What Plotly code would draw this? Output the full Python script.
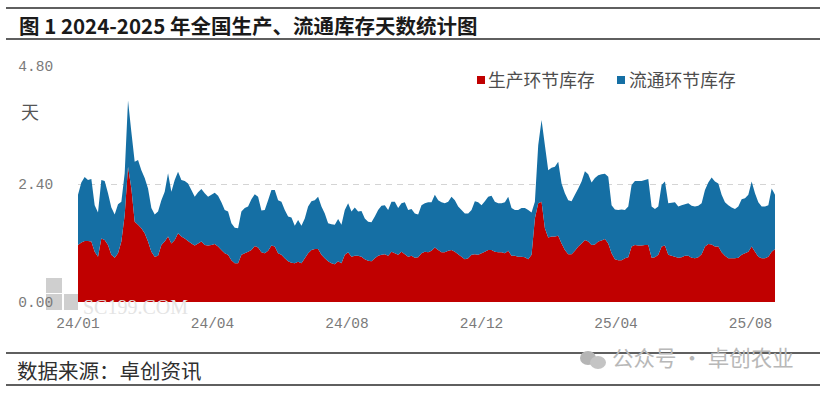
import pandas as pd
import numpy as np
import plotly.graph_objects as go

START = "2024-01-01"
STEP_DAYS = 3

total_days = [
2.18,2.43,2.54,2.48,2.50,1.97,1.82,2.48,2.46,2.21,1.92,1.78,1.99,2.04,2.62,4.10,3.46,2.85,2.89,2.68,2.52,2.31,1.91,1.78,1.84,2.07,
2.24,2.62,2.24,2.48,2.65,2.48,2.46,2.41,2.28,2.14,2.23,2.30,2.21,2.14,2.18,2.22,2.16,2.03,1.87,1.84,1.60,1.51,1.50,1.84,1.91,1.94,
2.09,2.19,2.14,1.86,1.87,2.07,2.28,2.28,2.07,2.04,1.87,1.74,1.72,1.55,1.67,1.55,1.70,1.94,2.05,2.07,2.14,1.94,1.80,1.60,1.58,1.57,1.69,1.57,
1.87,2.01,1.84,1.92,1.84,1.85,1.70,1.63,1.62,1.74,1.87,1.96,1.97,1.87,2.04,2.04,1.91,2.01,2.03,1.87,1.89,1.80,1.78,1.97,2.01,
2.03,2.03,2.18,2.07,2.03,2.01,2.04,2.14,2.07,1.94,1.87,1.80,1.80,1.87,2.05,2.03,1.97,2.05,2.14,2.16,2.04,2.01,2.01,2.03,2.14,1.91,
1.87,1.87,1.91,1.91,1.87,1.82,2.04,3.19,3.70,3.19,2.68,2.73,2.75,2.85,2.41,2.21,2.07,2.05,2.18,2.31,2.45,2.66,2.60,2.43,2.52,2.58,
2.60,2.61,2.55,1.97,1.88,1.87,1.88,1.87,1.94,2.38,2.46,2.46,2.46,2.48,2.50,1.94,1.89,1.94,2.38,2.45,2.01,2.02,2.03,1.94,1.97,1.99,
2.01,1.96,1.94,1.96,2.01,2.28,2.43,2.53,2.45,2.41,2.18,2.03,1.97,1.92,1.89,1.94,2.09,2.11,2.18,2.45,2.21,2.03,1.94,1.94,1.97,2.31,2.18,
]

production_days = [
1.16,1.21,1.24,1.24,1.23,1.02,.92,1.29,1.26,1.16,.96,.90,.99,1.23,1.77,2.75,2.31,1.63,1.57,1.50,1.40,1.23,1.02,.92,.94,1.16,
1.23,1.33,1.19,1.26,1.40,1.33,1.29,1.24,1.19,1.15,1.19,1.23,1.16,1.15,1.16,1.18,1.13,1.06,.99,.96,.85,.79,.79,.96,.99,1.02,
1.06,1.14,1.11,1.01,.99,1.04,1.15,1.13,.99,.96,.89,.83,.80,.79,.82,.79,.89,.99,1.06,1.08,1.08,.96,.89,.83,.79,.77,.83,.79,
.96,1.01,.92,.94,.94,.92,.87,.84,.83,.89,.94,.96,.97,.94,1.02,.99,.96,1.02,.97,.92,.94,.90,.91,.99,1.02,
1.01,1.04,1.11,1.06,1.01,1.01,1.04,1.06,1.02,.97,.92,.87,.89,.96,.97,.96,.99,1.02,1.06,1.06,1.02,1.01,1.01,.99,1.04,.94,
.94,.92,.92,.91,.87,.96,1.70,2.01,2.04,1.50,1.31,1.33,1.33,1.35,1.19,1.06,.97,.97,1.04,1.13,1.19,1.26,1.23,1.16,1.17,1.23,
1.25,1.28,1.19,.99,.87,.85,.85,.89,.91,1.13,1.16,1.15,1.15,1.16,1.16,.90,.91,.96,1.13,1.15,.96,.94,.92,.90,.91,.94,
.94,.90,.89,.91,.97,1.13,1.18,1.17,1.13,1.13,1.01,.94,.89,.89,.89,.90,.96,.99,1.02,1.13,1.02,.92,.89,.89,.92,1.02,1.08,
]

tick_dates = ["2024-01-01", "2024-05-01", "2024-08-30", "2024-12-29", "2025-04-29", "2025-08-28"]
tick_labels = ["24/01", "24/04", "24/08", "24/12", "25/04", "25/08"]
y_ticks = [0, 2.4, 4.8]
y_labels = ["0.00", "2.40", "4.80"]
series_names = ["生产环节库存", "流通环节库存"]
RED, BLUE = "#C00000", "#156FA4"
MONO = "Liberation Mono, Noto Sans CJK SC"
CJK = "Noto Sans CJK SC"
GREY = "#7a7a7a"

dates = pd.date_range(START, periods=len(total_days), freq=f"{STEP_DAYS}D")
production = np.array(production_days)
circulation = np.array(total_days) - production

fig = go.Figure()
fig.add_trace(go.Scatter(x=dates, y=production, name=series_names[0], stackgroup="s", mode="none",
                         fillcolor=RED, showlegend=False))
fig.add_trace(go.Scatter(x=dates, y=circulation, name=series_names[1], stackgroup="s", mode="none",
                         fillcolor=BLUE, showlegend=False))


def px(x):
    return (x - 78) / 697


def py(y):
    return (302 - y) / 236


shapes = []
for yy in (8, 39, 353, 385):
    shapes.append(dict(type="line", xref="paper", yref="paper", x0=px(6), x1=px(820), y0=py(yy), y1=py(yy),
                       line=dict(color="#2a2a2a", width=1.6)))

# legend swatches
shapes.append(dict(type="rect", xref="paper", yref="paper", x0=px(477), x1=px(485), y0=py(84), y1=py(76),
                   fillcolor=RED, line=dict(width=0)))
shapes.append(dict(type="rect", xref="paper", yref="paper", x0=px(617), x1=px(625), y0=py(84), y1=py(76),
                   fillcolor=BLUE, line=dict(width=0)))

# source-site logo watermark
for (a, b, c, d) in [(46, 278, 62, 293), (64, 294, 78, 310), (46, 294, 62, 310)]:
    shapes.append(dict(type="rect", xref="paper", yref="paper", x0=px(a), x1=px(c), y0=py(d), y1=py(b),
                       fillcolor="#cfcfcf", line=dict(width=0), layer="below"))
# wechat icon watermark
shapes.append(dict(type="circle", xref="paper", yref="paper", x0=px(580), x1=px(596), y0=py(365), y1=py(351),
                   fillcolor="#b5b5b5", line=dict(width=0)))
shapes.append(dict(type="circle", xref="paper", yref="paper", x0=px(590), x1=px(606), y0=py(369), y1=py(356),
                   fillcolor="#c4c4c4", line=dict(width=0)))


def note(x, y, text, size, color, anchor="left", family=CJK):
    return dict(xref="paper", yref="paper", x=px(x), y=py(y), text=text, showarrow=False, xanchor=anchor,
                yanchor="middle", font=dict(family=family, size=size, color=color))


annotations = [
    note(17, 25, "<b>图 1 2024-2025 年全国生产、流通库存天数统计图</b>", 20.5, "#1a1a1a"),
    note(15, 370, "数据来源：卓创资讯", 20.5, "#2f2f2f"),
    note(19, 111, "天", 18, "#555555"),
    note(486, 79, series_names[0], 17.8, "#4d4d4d"),
    note(627, 79, series_names[1], 17.8, "#4d4d4d"),
    note(81, 307, "SC199.COM", 20, "#e4e4e4", family="Liberation Serif"),
    note(610, 356, "公众号 · 卓创农业", 21.5, "#b8b8b8"),
]

fig.update_layout(
    width=825, height=393,
    margin=dict(l=78, r=50, t=66, b=91, autoexpand=False),
    paper_bgcolor="white", plot_bgcolor="white",
    showlegend=False,
    shapes=shapes, annotations=annotations,
    xaxis=dict(type="date", range=[dates[0], dates[-1]], tickvals=tick_dates, ticktext=tick_labels,
               ticks="outside", ticklen=8, tickcolor="rgba(0,0,0,0)", showgrid=False, showline=False,
               zeroline=False, tickfont=dict(family=MONO, size=14.5, color=GREY)),
    yaxis=dict(range=[0, 4.8], tickvals=y_ticks, ticktext=y_labels, ticks="outside", ticklen=21,
               tickcolor="rgba(0,0,0,0)", showgrid=True, gridcolor="#d4d4d4", griddash="6px,5px", gridwidth=1,
               zeroline=False, showline=False, tickfont=dict(family=MONO, size=14.5, color=GREY)),
)

fig.write_html("out.html", post_script="document.body.style.margin='0';",
               config={"displayModeBar": False})
